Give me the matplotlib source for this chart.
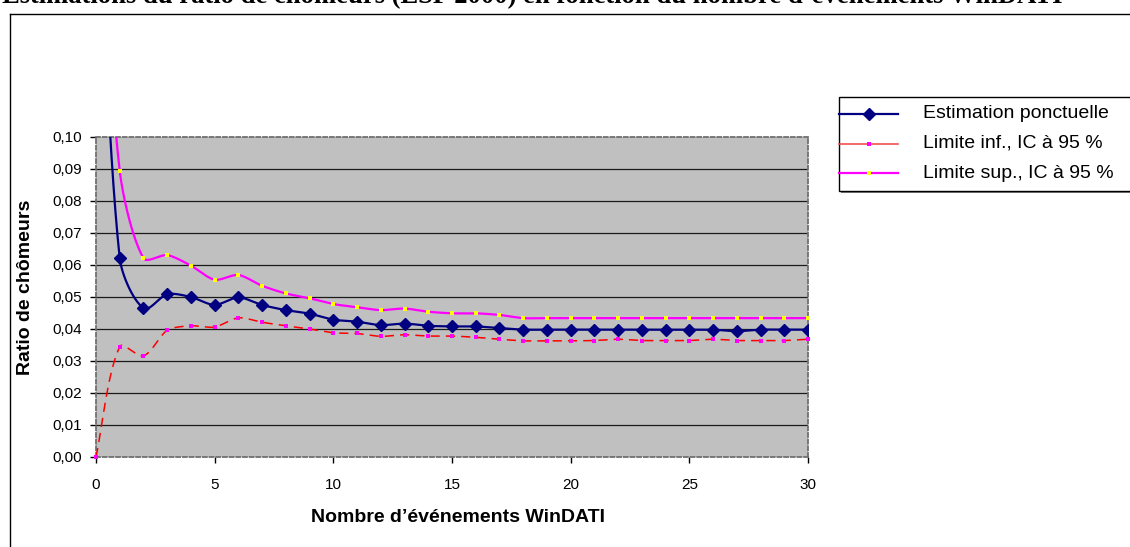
import numpy as np
import matplotlib
matplotlib.use("Agg")
import matplotlib.pyplot as plt
from matplotlib.lines import Line2D
from matplotlib.patches import Rectangle

# ---------------- data ----------------
x_events = list(range(0, 31))
estimation = [0.185, 0.0621, 0.0465, 0.0509, 0.0500, 0.0475, 0.0499, 0.0475, 0.0459, 0.0448,
              0.0429, 0.0423, 0.0412, 0.0417, 0.0410, 0.0408, 0.0408, 0.0403, 0.0398, 0.0398,
              0.0398, 0.0398, 0.0398, 0.0398, 0.0398, 0.0398, 0.0398, 0.0393, 0.0398, 0.0398,
              0.0398]
lower = [0.0000, 0.0345, 0.0316, 0.0396, 0.0410, 0.0406, 0.0435, 0.0421, 0.0410, 0.0400,
         0.0388, 0.0386, 0.0377, 0.0382, 0.0378, 0.0378, 0.0374, 0.0368, 0.0363, 0.0363,
         0.0363, 0.0364, 0.0368, 0.0364, 0.0364, 0.0364, 0.0368, 0.0364, 0.0364, 0.0364,
         0.0368]
upper = [0.190, 0.0894, 0.0621, 0.0631, 0.0598, 0.0554, 0.0569, 0.0535, 0.0511, 0.0496,
         0.0478, 0.0468, 0.0459, 0.0464, 0.0454, 0.0449, 0.0449, 0.0444, 0.0434, 0.0434,
         0.0434, 0.0434, 0.0434, 0.0434, 0.0434, 0.0434, 0.0434, 0.0434, 0.0434, 0.0434,
         0.0434]
series_labels = ["Estimation ponctuelle", "Limite inf., IC à 95 %", "Limite sup., IC à 95 %"]
y_ticks = [0.00, 0.01, 0.02, 0.03, 0.04, 0.05, 0.06, 0.07, 0.08, 0.09, 0.10]
y_tick_labels = ["0,00", "0,01", "0,02", "0,03", "0,04", "0,05", "0,06", "0,07", "0,08", "0,09", "0,10"]
x_ticks = [0, 5, 10, 15, 20, 25, 30]
x_tick_labels = ["0", "5", "10", "15", "20", "25", "30"]
title_text = "Estimations du ratio de chômeurs (ESP 2000) en fonction du nombre d’événements WinDATI"
x_label = "Nombre d’événements WinDATI"
y_label = "Ratio de chômeurs"

# ---------------- helpers ----------------
W, H = 1130, 547
def fx(px):
    return px / W
def fy(py):
    return 1 - py / H

AX_L, AX_R, AX_T, AX_B = 96, 808, 137, 457
SX = (AX_R - AX_L) / 30.0      # px per x unit
SY = (AX_B - AX_T) / 0.10      # px per y unit

def smooth(xs, ys, n=30, k=0.26):
    """Bezier smoothing (Excel-like) computed in pixel space."""
    P = np.column_stack([np.asarray(xs, float) * SX, np.asarray(ys, float) * SY])
    m = len(P)
    d = np.zeros_like(P)
    for i in range(m):
        a = P[i - 1] if i > 0 else P[i]
        b = P[i + 1] if i < m - 1 else P[i]
        v = b - a
        d[i] = v / (np.hypot(*v) + 1e-12)
    out = [P[0]]
    t = np.linspace(0, 1, n)[1:, None]
    for i in range(m - 1):
        p1, p2 = P[i], P[i + 1]
        L = np.hypot(*(p2 - p1))
        c1 = p1 + d[i] * L * k
        c2 = p2 - d[i + 1] * L * k
        seg = (1 - t) ** 3 * p1 + 3 * (1 - t) ** 2 * t * c1 + 3 * (1 - t) * t ** 2 * c2 + t ** 3 * p2
        out.extend(seg)
    out = np.array(out)
    return out[:, 0] / SX, out[:, 1] / SY

plt.rcParams["font.family"] = ["Liberation Sans", "DejaVu Sans"]

fig = plt.figure(figsize=(W / 100, H / 100), dpi=100)
fig.patch.set_facecolor("white")

# outer chart frame (extends past right / bottom edges)
fig.add_artist(Line2D([fx(10), fx(10)], [fy(14), fy(560)], color="black", lw=1.0, transform=fig.transFigure))
fig.add_artist(Line2D([fx(10), fx(1140)], [fy(14), fy(14)], color="black", lw=1.0, transform=fig.transFigure))

# title, clipped by the top edge as in the reference
title = fig.text(fx(2), fy(3.5), title_text, ha="left", va="baseline",
                 family=["Liberation Serif", "DejaVu Serif"], fontweight="bold", fontsize=17)
renderer = fig.canvas.get_renderer()
wpx = title.get_window_extent(renderer).width
title.set_fontsize(17 * 1060 / wpx)

ax = fig.add_axes([fx(AX_L), fy(AX_B), (AX_R - AX_L) / W, (AX_B - AX_T) / H])
ax.set_facecolor("#C0C0C0")
ax.set_xlim(0, 30)
ax.set_ylim(0, 0.10)

for yv in y_ticks[1:-1]:
    ax.axhline(yv, color="#1a1a1a", lw=0.9, zorder=1)

for s in ax.spines.values():
    s.set_color("#707070")
    s.set_linewidth(1.3)
    s.set_linestyle((0, (2.2, 1.5)))

ax.set_yticks(y_ticks)
ax.set_yticklabels(y_tick_labels)
ax.set_xticks(x_ticks)
ax.set_xticklabels(x_tick_labels)
ax.tick_params(axis="y", direction="out", length=4, width=1, color="black", pad=6, labelsize=11)
ax.tick_params(axis="x", direction="out", length=4, width=1, color="black", pad=11, labelsize=11)

navy = "#000080"
magenta = "#FF00FF"
red = "#FF0000"
yellow = "#FFFF00"

sx_, sy_ = smooth(x_events, estimation)
ax.plot(sx_, sy_, color=navy, lw=1.6, zorder=3)
ax.plot(x_events, estimation, ls="none", marker="D", ms=6, color=navy, mec=navy, zorder=4)

sx_, sy_ = smooth(x_events, lower)
ax.plot(sx_, sy_, color=red, lw=1.1, ls=(0, (6, 4)), zorder=3)
ax.plot(x_events, lower, ls="none", marker="s", ms=3.3, color=magenta, mew=0, zorder=4, clip_on=False)

sx_, sy_ = smooth(x_events, upper)
ax.plot(sx_, sy_, color=magenta, lw=1.6, zorder=3)
ax.plot(x_events, upper, ls="none", marker="s", ms=3.5, color=yellow, mew=0, zorder=4)

# axis titles
fig.text(fx(26), fy(287), y_label, rotation=90, ha="center", va="center", fontsize=14, fontweight="bold")
fig.text(fx(458), fy(518), x_label, ha="center", va="center", fontsize=14, fontweight="bold")

# legend (drawn by hand to match the layout)
fig.add_artist(Rectangle((fx(841), fy(193)), fx(1140) - fx(841), fy(99) - fy(193),
                         transform=fig.transFigure, facecolor="#808080", edgecolor="none", zorder=5))
fig.add_artist(Rectangle((fx(839), fy(191)), fx(1140) - fx(839), fy(97) - fy(191),
                         transform=fig.transFigure, facecolor="white", edgecolor="black", lw=1, zorder=6))
legend_rows = [114, 143.5, 173]
legend_styles = [
    dict(color=navy, lw=1.6, marker="D", ms=6, mfc=navy, mec=navy),
    dict(color="#F05050", lw=1.2, marker="s", ms=3.3, mfc=magenta, mew=0),
    dict(color=magenta, lw=1.6, marker="s", ms=3.5, mfc=yellow, mew=0),
]
for row, label, st in zip(legend_rows, series_labels, legend_styles):
    fig.add_artist(Line2D([fx(839), fx(898)], [fy(row), fy(row)], transform=fig.transFigure,
                          color=st["color"], lw=st["lw"], zorder=7))
    fig.add_artist(Line2D([fx(868.5)], [fy(row)], transform=fig.transFigure, ls="none",
                          marker=st["marker"], ms=st["ms"], mfc=st["mfc"],
                          mec=st.get("mec", st["mfc"]), mew=st.get("mew", 1), zorder=8))
    fig.text(fx(923), fy(row), label, ha="left", va="center", fontsize=14, zorder=8)

fig.savefig("out.png", dpi=100, facecolor="white")
